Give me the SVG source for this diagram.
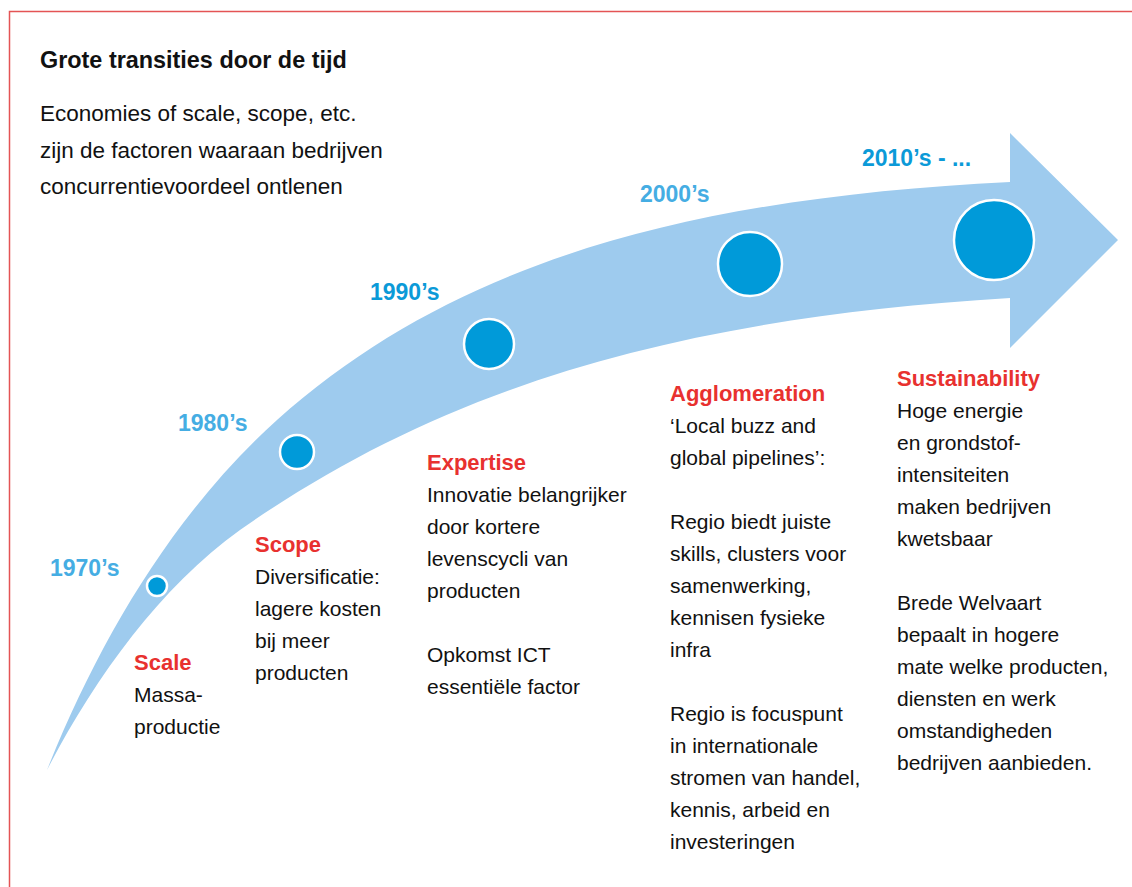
<svg xmlns="http://www.w3.org/2000/svg" width="1132" height="887" viewBox="0 0 1132 887">
<style>
text{font-family:"Liberation Sans",Arial,sans-serif;}
.title{font-size:23.4px;font-weight:bold;fill:#111;}
.intro{font-size:22.5px;fill:#111;}
.year{font-size:23px;font-weight:bold;}
.y1{fill:#45ade3;}
.y2{fill:#0b9ad8;}
.head{font-size:22px;font-weight:bold;fill:#e8312f;}
.body{font-size:21px;fill:#111;}
.dot{fill:#009ad9;stroke:#fff;stroke-width:2.5;}
</style>
<rect x="0" y="0" width="1132" height="887" fill="#fff"/>
<path d="M9.5,887 V11.5 H1132" fill="none" stroke="#e45455" stroke-width="1.5"/>
<g id="header">
<text class="title" x="40" y="68">Grote transities door de tijd</text>
<text class="intro" x="40" y="121">Economies of scale, scope, etc.</text>
<text class="intro" x="40" y="157.5">zijn de factoren waaraan bedrijven</text>
<text class="intro" x="40" y="194">concurrentievoordeel ontlenen</text>
</g>
<g id="connectors">
<path id="arrow" fill="#9ecbee" d="M47,770 C99,640 173,514 277,420 C463,253 710,197 1010,182 L1010,133 L1118,240 L1010,348 L1010,298 C680,318 445,386 240,530 C159,588 93,681 47,770 Z"/>
</g>
<g id="n1970">
<circle class="dot" cx="157" cy="586" r="10"/>
<text class="year y1" x="50" y="576">1970’s</text>
<text class="head" x="134" y="670">Scale</text>
<text class="body" x="134" y="702">Massa-</text>
<text class="body" x="134" y="734">productie</text>
</g>
<g id="n1980">
<circle class="dot" cx="297" cy="452" r="17"/>
<text class="year y1" x="178" y="431">1980’s</text>
<text class="head" x="255" y="552">Scope</text>
<text class="body" x="255" y="584">Diversificatie:</text>
<text class="body" x="255" y="616">lagere kosten</text>
<text class="body" x="255" y="648">bij meer</text>
<text class="body" x="255" y="680">producten</text>
</g>
<g id="n1990">
<circle class="dot" cx="489" cy="344" r="25"/>
<text class="year y2" x="370" y="300">1990’s</text>
<text class="head" x="427" y="470">Expertise</text>
<text class="body" x="427" y="502">Innovatie belangrijker</text>
<text class="body" x="427" y="534">door kortere</text>
<text class="body" x="427" y="566">levenscycli van</text>
<text class="body" x="427" y="598">producten</text>
<text class="body" x="427" y="662">Opkomst ICT</text>
<text class="body" x="427" y="694">essentiële factor</text>
</g>
<g id="n2000">
<circle class="dot" cx="750" cy="264" r="32"/>
<text class="year y1" x="640" y="202">2000’s</text>
<text class="head" x="670" y="401">Agglomeration</text>
<text class="body" x="670" y="433">‘Local buzz and</text>
<text class="body" x="670" y="465">global pipelines’:</text>
<text class="body" x="670" y="529">Regio biedt juiste</text>
<text class="body" x="670" y="561">skills, clusters voor</text>
<text class="body" x="670" y="593">samenwerking,</text>
<text class="body" x="670" y="625">kennisen fysieke</text>
<text class="body" x="670" y="657">infra</text>
<text class="body" x="670" y="721">Regio is focuspunt</text>
<text class="body" x="670" y="753">in internationale</text>
<text class="body" x="670" y="785">stromen van handel,</text>
<text class="body" x="670" y="817">kennis, arbeid en</text>
<text class="body" x="670" y="849">investeringen</text>
</g>
<g id="n2010">
<circle class="dot" cx="994" cy="240" r="40"/>
<text class="year y2" x="862" y="166">2010’s - ...</text>
<text class="head" x="897" y="386">Sustainability</text>
<text class="body" x="897" y="418">Hoge energie</text>
<text class="body" x="897" y="450">en grondstof-</text>
<text class="body" x="897" y="482">intensiteiten</text>
<text class="body" x="897" y="514">maken bedrijven</text>
<text class="body" x="897" y="546">kwetsbaar</text>
<text class="body" x="897" y="610">Brede Welvaart</text>
<text class="body" x="897" y="642">bepaalt in hogere</text>
<text class="body" x="897" y="674">mate welke producten,</text>
<text class="body" x="897" y="706">diensten en werk</text>
<text class="body" x="897" y="738">omstandigheden</text>
<text class="body" x="897" y="770">bedrijven aanbieden.</text>
</g>
</svg>
